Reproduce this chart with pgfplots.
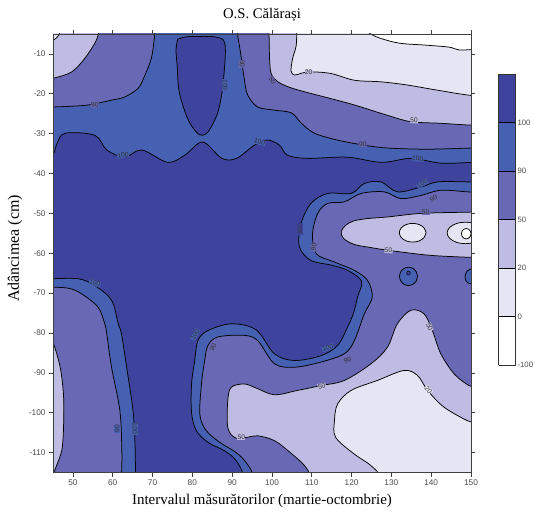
\documentclass[border=0pt]{standalone}
\usepackage{fontspec}
\setmainfont{Liberation Serif}
\setsansfont{Liberation Sans}
\usepackage{pgfplots}
\pgfplotsset{compat=1.18}

\definecolor{cD}{RGB}{62,68,158}
\definecolor{cB}{RGB}{70,96,178}
\definecolor{cM}{RGB}{104,104,180}
\definecolor{cL}{RGB}{190,188,226}
\definecolor{cV}{RGB}{230,229,243}

\pgfplotsset{
  reg/.style={smooth, tension=0.55, draw=black, line width=0.75bp, line join=round, fill=#1},
}
\tikzset{
  lab/.style={font=\sffamily\fontsize{6.8}{7}\selectfont, text=black!80, inner sep=0.3bp, fill=#1},
}

\begin{document}
\begin{tikzpicture}
\useasboundingbox (-53bp,-41.5bp) rectangle (482bp,472.5bp);
\begin{axis}[
  scale only axis, width=418bp, height=438.5bp,
  xmin=45, xmax=150, ymin=-115, ymax=-5,
  xtick={50,60,...,150}, ytick={-110,-100,...,-10},
  tick align=outside, major tick length=4bp,
  tick style={black!75, line width=0.6bp},
  axis line style={black!75, line width=0.8bp},
  /pgf/number format/assume math mode=true,
  tick label style={font=\sffamily\fontsize{8.3}{9}\selectfont, text=black!70},
  axis on top,
  title={O.S. Călărași},
  title style={font=\fontsize{14.7}{16}\selectfont, at={(axis description cs:0.5,1)}, anchor=base, yshift=10bp},
  xlabel={Intervalul măsurătorilor (martie-octombrie)},
  xlabel style={font=\fontsize{15}{16}\selectfont, at={(axis description cs:0.5,0)}, anchor=base, yshift=-31.5bp},
  ylabel={Adâncimea (cm)},
  ylabel style={font=\fontsize{16}{18}\selectfont, at={(axis description cs:-0.0909,0.511)}, anchor=center},
  colorbar,
  colormap={bands}{rgb255=(255,255,255) rgb255=(230,229,243) rgb255=(190,188,226) rgb255=(104,104,180) rgb255=(70,96,178) rgb255=(62,68,158)},
  colormap access=piecewise constant,
  point meta min=0, point meta max=6,
  colorbar style={
    at={(parent axis.north east)}, anchor=north west,
    xshift=19bp, yshift=-40bp, width=17bp, height=291bp,
    colormap access=piecewise constant,
    ytick={0,1,2,3,4,5}, yticklabels={-100,0,20,50,90,100},
    ymajorgrids, grid style={black, line width=0.7bp},
    axis on top,
    major tick length=2bp,
    tick style={black},
    axis line style={black!80, line width=0.7bp},
    yticklabel style={font=\sffamily\fontsize{7.8}{8}\selectfont, text=black!70, xshift=-1.5bp},
  },
]
% base: >100
\addplot[fill=cD, draw=none] coordinates {(40,0) (160,0) (160,-125) (40,-125)};
% top blue 90-100
\addplot[reg=cB] coordinates {(35,-36.2) (44,-36.2) (46,-32.5) (48,-29.9) (55.5,-30.4) (58.5,-34.1) (63,-35.9) (67.3,-34.1) (73.8,-37.2) (78.1,-35.4) (82.6,-32.1) (87.4,-36.2) (91.1,-36.2) (95.6,-32.9) (98.9,-31.6) (101.9,-32.9) (103.9,-35.4) (108.9,-36.2) (118.9,-35.9) (127.5,-37.2) (135,-36.2) (142.5,-37.4) (151,-37.2) (160,-37.2) (160,10) (35,10)};
% top dark lobe
\addplot[reg=cD] coordinates {(76.3,-6.3) (75.9,-9) (76.2,-13) (76.7,-19.5) (78.8,-26.2) (81,-29.6) (82.6,-30.4) (84.2,-29.2) (86.3,-25) (87.4,-20) (88,-14.5) (88.3,-9) (87.8,-6.5) (85.5,-5.7) (82,-5.6) (78.5,-5.7) (76.3,-6.3)};
% top-left medium
\addplot[reg=cM] coordinates {(35,-23.3) (44,-23.3) (48,-23.2) (53.9,-22.8) (59.7,-21.6) (63,-20.8) (66.4,-18.6) (68.1,-15.3) (69.7,-11.1) (70.4,-6.5) (70.6,-3) (70.7,10) (35,10)};
% top-left light
\addplot[reg=cL] coordinates {(35,-16.2) (44,-16.2) (45.5,-16) (49.7,-14.5) (53,-11.1) (55.5,-7.3) (56.4,-5) (56.8,-2) (57,10) (35,10)};
\addplot[reg=cV] coordinates {(35,-6.6) (44,-6.6) (45.3,-6.4) (46.2,-5.6) (46.8,-4.5) (47,-2) (47,10) (35,10)};
% top-right medium
\addplot[reg=cM] coordinates {(91.2,10) (91.2,-3) (91.4,-5.3) (92.2,-10.3) (93.1,-16.6) (93.9,-20.3) (96.4,-23.3) (100.6,-24.1) (104.9,-24.8) (107.4,-27.4) (110.7,-29.9) (116.4,-31.6) (123.2,-32.9) (129,-33.6) (139,-33.9) (151,-33.6) (160,-33.6) (160,10)};
% top-right light
\addplot[reg=cL] coordinates {(99.2,10) (99.2,-3) (99.3,-6) (99.4,-11.1) (99.8,-14.9) (101.5,-17) (104.5,-18.4) (108.2,-19.5) (114,-21) (120.7,-22.8) (129,-25.4) (134.9,-27) (142.4,-27.4) (151,-27.9) (160,-27.9) (160,10)};
% top-right very light
\addplot[reg=cV] coordinates {(106.2,10) (106.2,-3) (106.1,-7.8) (105.2,-11.1) (104.8,-14.3) (105.7,-15.3) (107.5,-14.8) (109.8,-14.5) (114.8,-14.9) (120.7,-16.6) (127.4,-17) (134,-17.8) (141.6,-19.1) (151,-20.5) (160,-20.5) (160,10)};
% top-right white
\addplot[reg=white] coordinates {(123.5,10) (123.5,-3) (124.4,-4.7) (127,-6) (132,-7.3) (138.7,-7.8) (144.5,-8.3) (147,-9) (151,-8.9) (160,-8.9) (160,10)};
% lower-right blue
\addplot[reg=cB] coordinates {(151,-42.1) (149.1,-42.1) (141.6,-42.1) (137.4,-43.4) (131.5,-44.6) (127.4,-42.1) (123.2,-42.5) (119.9,-45) (114,-45) (109.8,-47.5) (107.3,-52.6) (106.9,-58.4) (109.8,-61.8) (115,-63) (119,-64.3) (122.5,-67) (121.5,-71) (120.5,-75) (119,-78.5) (116.5,-83.1) (112.3,-85.7) (105.6,-86.9) (100.6,-85.2) (96,-79.2) (89.8,-77.7) (83.9,-79.4) (81.4,-81.9) (80.6,-86.9) (79.8,-92.8) (79.8,-100) (81,-104.5) (84,-107.5) (88,-109.5) (91,-112) (93,-116.5) (93,-125) (160,-125) (160,-42.1)};
% lower-right medium
\addplot[reg=cM] coordinates {(151,-44.6) (149.1,-44.6) (142.4,-44.2) (137.4,-45.5) (132.4,-46.3) (128.2,-44.6) (122.4,-45) (118.2,-47.1) (114,-47.5) (111.5,-50) (110.2,-55.1) (111.1,-60.1) (115.7,-62.2) (120.7,-64.3) (124,-66.8) (125.2,-71) (123.2,-75.2) (120.7,-81.9) (118.2,-85.2) (112.3,-87.3) (105.6,-88.6) (100.6,-87.7) (96.5,-82) (93.1,-80.6) (86.4,-81) (83.9,-83.2) (83.1,-86.9) (82.3,-92.8) (81.9,-100.5) (83.5,-104.5) (87,-107.5) (91,-110) (93.5,-112.5) (95.5,-116.5) (95.5,-125) (160,-125) (160,-44.6)};
% lower-right light
\addplot[reg=cL] coordinates {(151,-93.2) (149.5,-93.2) (145.8,-90.3) (142.4,-85.2) (140.3,-79.4) (138.2,-75.2) (134.9,-74.3) (131.5,-77.7) (129,-83.6) (124.9,-87.7) (118.2,-91.9) (112.3,-93.2) (106,-94.5) (100.6,-95.5) (96,-93.8) (93.1,-92.8) (89.8,-93.6) (88.9,-97) (88.9,-103.7) (90.6,-106.2) (93,-106.3) (96.5,-105.8) (100.6,-107) (104,-109.5) (108.2,-113.3) (109.6,-116.5) (109.6,-125) (160,-125) (160,-93.2)};
% lower-right very light
\addplot[reg=cV] coordinates {(151,-102.3) (149.1,-102) (143.2,-98.6) (139.1,-94.4) (136.6,-90.7) (133.2,-89.4) (126.5,-91.9) (119.9,-94.4) (116.5,-97.8) (115.7,-102) (116,-106.2) (120.7,-110.4) (124.9,-113.3) (127.2,-116.5) (127.2,-125) (160,-125) (160,-102.3)};
% middle light oval
\addplot[reg=cL] coordinates {(160,-49.7) (151,-49.7) (149,-49.7) (137.5,-50) (129,-50.9) (124,-51.3) (120.5,-51.9) (118.5,-53) (117.4,-54.6) (118,-56.3) (120.7,-57.8) (125,-58.6) (129.5,-59.3) (139.5,-60.5) (149,-61) (151,-61) (160,-61)};
% very light ovals
\addplot[reg=cV] coordinates {(138.7,-54.85) (138.25,-53.68) (137.03,-52.82) (135.35,-52.5) (133.68,-52.82) (132.45,-53.68) (132,-54.85) (132.45,-56.03) (133.68,-56.89) (135.35,-57.2) (137.03,-56.89) (138.25,-56.03) (138.7,-54.85)};
\addplot[reg=cV] coordinates {(153.2,-54.9) (152.58,-53.55) (150.9,-52.56) (148.6,-52.2) (146.3,-52.56) (144.62,-53.55) (144,-54.9) (144.62,-56.25) (146.3,-57.24) (148.6,-57.6) (150.9,-57.24) (152.58,-56.25) (153.2,-54.9)};
\addplot[reg=white] coordinates {(150,-55.1) (149.84,-54.45) (149.4,-53.97) (148.8,-53.8) (148.2,-53.97) (147.76,-54.45) (147.6,-55.1) (147.76,-55.75) (148.2,-56.23) (148.8,-56.4) (149.4,-56.23) (149.84,-55.75) (150,-55.1)};
% small blue circles
\addplot[reg=cB] coordinates {(136.55,-65.8) (136.25,-64.65) (135.43,-63.81) (134.3,-63.5) (133.17,-63.81) (132.35,-64.65) (132.05,-65.8) (132.35,-66.95) (133.17,-67.79) (134.3,-68.1) (135.43,-67.79) (136.25,-66.95) (136.55,-65.8)};
\addplot[reg=cD, line width=0.5bp] coordinates {(134.8,-65) (134.55,-64.57) (134.05,-64.57) (133.8,-65) (134.05,-65.43) (134.55,-65.43) (134.8,-65)};
\addplot[reg=cB] coordinates {(151,-63.9) (150,-63.9) (149.1,-64.4) (148.6,-65.3) (148.5,-66) (148.7,-66.9) (149.3,-67.5) (150,-67.7) (151,-67.7)};
% left bottom
\addplot[reg=cB] coordinates {(35,-66.4) (44,-66.4) (51.3,-66.4) (55.5,-68.1) (59.7,-71.8) (61.4,-77.7) (62.2,-80.2) (63.5,-88.6) (65.1,-99.5) (65.6,-108) (65.7,-113.3) (65.7,-116.5) (65.7,-125) (35,-125)};
\addplot[reg=cM] coordinates {(35,-68.5) (44,-68.5) (49,-68.8) (52.2,-70.2) (56.3,-73.5) (58,-77.7) (58.5,-80.2) (59.7,-88.6) (61.8,-99.5) (62.3,-110) (62.2,-116.5) (62.2,-125) (35,-125)};
\addplot[reg=cL] coordinates {(35,-82.5) (44,-82.5) (45.1,-82.7) (46.8,-88.6) (47.6,-95) (47.7,-100) (47.6,-105) (47.2,-109.5) (46,-113) (45,-115.5) (44,-118) (35,-118)};
% contour labels
\node[lab=cM, rotate=8] at (axis cs:55.5,-22.8) {90};
\node[lab=cB, rotate=-90] at (axis cs:88.2,-17.8) {100};
\node[lab=cM, rotate=-90] at (axis cs:92.5,-12.5) {90};
\node[lab=cB, rotate=12] at (axis cs:62.6,-35.4) {100};
\node[lab=cB, rotate=-15] at (axis cs:96.9,-32.1) {100};
\node[lab=cM, rotate=-60] at (axis cs:100.1,-16.6) {50};
\node[lab=cL, rotate=0] at (axis cs:109.2,-14.6) {20};
\node[lab=cL, rotate=-3] at (axis cs:135.7,-26.7) {50};
\node[lab=cM, rotate=-5] at (axis cs:122.8,-32.7) {90};
\node[lab=cB, rotate=-5] at (axis cs:136.6,-36.3) {100};
\node[lab=cB, rotate=30] at (axis cs:137.8,-42.5) {100};
\node[lab=cM, rotate=30] at (axis cs:140.6,-46.2) {90};
\node[lab=cM, rotate=0] at (axis cs:138.6,-49.8) {50};
\node[lab=cD, rotate=90] at (axis cs:107,-54) {100};
\node[lab=cM, rotate=78] at (axis cs:110.5,-58.5) {90};
\node[lab=cL, rotate=-3] at (axis cs:129.3,-59.3) {50};
\node[lab=cB, rotate=-20] at (axis cs:55.5,-67.5) {100};
\node[lab=cB, rotate=60] at (axis cs:80.7,-80.4) {100};
\node[lab=cM, rotate=60] at (axis cs:85.2,-83.6) {90};
\node[lab=cB, rotate=90] at (axis cs:61.1,-104) {90};
\node[lab=cB, rotate=-90] at (axis cs:65.6,-104) {100};
\node[lab=cL, rotate=0] at (axis cs:92.3,-106.2) {50};
\node[lab=cL, rotate=-70] at (axis cs:139.6,-78.5) {50};
\node[lab=cB, rotate=20] at (axis cs:114,-83.7) {100};
\node[lab=cM, rotate=20] at (axis cs:119,-86.8) {90};
\node[lab=cL, rotate=12] at (axis cs:112.5,-93.3) {50};
\node[lab=cV, rotate=-50] at (axis cs:139.3,-94.2) {20};
\end{axis}
\end{tikzpicture}
\end{document}
